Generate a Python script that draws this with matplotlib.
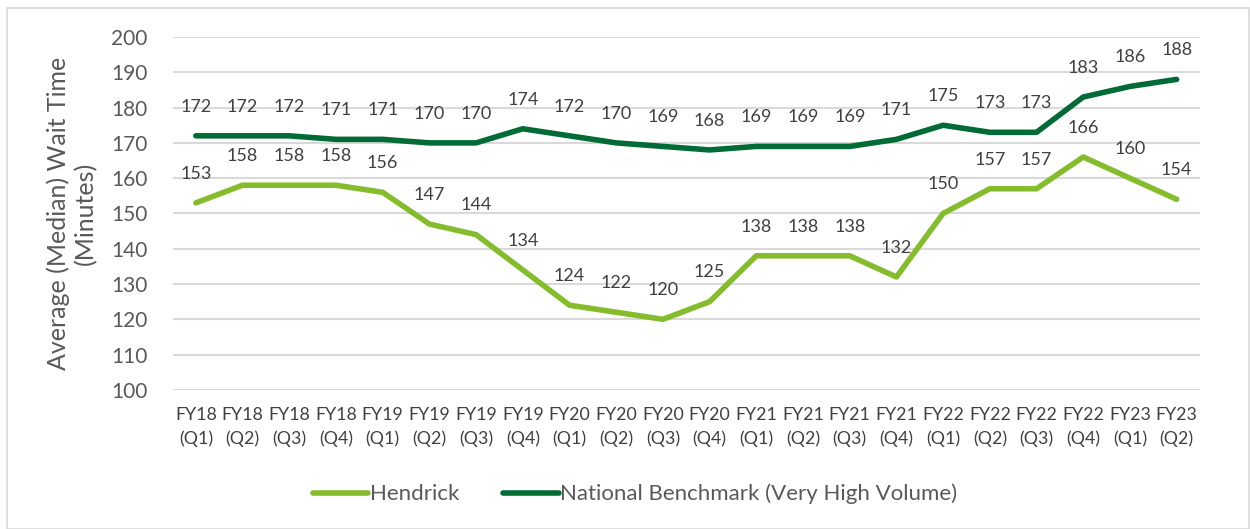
import matplotlib
matplotlib.use("Agg")
import matplotlib.pyplot as plt
from matplotlib.patches import Rectangle

categories = ["FY18\n(Q1)", "FY18\n(Q2)", "FY18\n(Q3)", "FY18\n(Q4)",
              "FY19\n(Q1)", "FY19\n(Q2)", "FY19\n(Q3)", "FY19\n(Q4)",
              "FY20\n(Q1)", "FY20\n(Q2)", "FY20\n(Q3)", "FY20\n(Q4)",
              "FY21\n(Q1)", "FY21\n(Q2)", "FY21\n(Q3)", "FY21\n(Q4)",
              "FY22\n(Q1)", "FY22\n(Q2)", "FY22\n(Q3)", "FY22\n(Q4)",
              "FY23\n(Q1)", "FY23\n(Q2)"]
hendrick = [153, 158, 158, 158, 156, 147, 144, 134, 124, 122, 120, 125,
            138, 138, 138, 132, 150, 157, 157, 166, 160, 154]
national = [172, 172, 172, 171, 171, 170, 170, 174, 172, 170, 169, 168,
            169, 169, 169, 171, 175, 173, 173, 183, 186, 188]
yticks = list(range(100, 201, 10))

plt.rcParams['font.family'] = ['Lato', 'DejaVu Sans']
txt = "#595959"
lbl = "#404040"
c_h = "#84BC2C"
c_n = "#006B34"

fig = plt.figure(figsize=(12.5, 5.29), dpi=100)
fig.patches.append(Rectangle((7/1250, 0), 1 - 7/1250 - 0.001, 1 - 8/529,
                             transform=fig.transFigure, fill=False,
                             edgecolor="#D9D9D9", linewidth=1.2))
ax = fig.add_axes([0.138, 0.263, 0.822, 0.667])
x = list(range(len(categories)))
ax.plot(x, hendrick, color=c_h, lw=4, label="Hendrick", solid_capstyle="round")
ax.plot(x, national, color=c_n, lw=4, label="National Benchmark (Very High Volume)",
        solid_capstyle="round")
for xi, v in zip(x, hendrick):
    ax.annotate(str(v), (xi, v), xytext=(0, 21), textcoords="offset points",
                ha="center", va="center", fontsize=13, color=lbl)
for xi, v in zip(x, national):
    ax.annotate(str(v), (xi, v), xytext=(0, 21), textcoords="offset points",
                ha="center", va="center", fontsize=13, color=lbl)

ax.set_xlim(-0.5, len(categories) - 0.5)
ax.set_ylim(100, 200)
ax.set_yticks(yticks)
ax.set_xticks(x)
ax.set_xticklabels(categories, fontsize=12.8, color=lbl, linespacing=1.6)
ax.tick_params(axis="y", labelsize=15, labelcolor=txt, length=0, pad=18)
ax.tick_params(axis="x", length=0, pad=12)
ax.grid(axis="y", color="#D9D9D9", lw=1.5)
ax.set_axisbelow(True)
for s in ax.spines.values():
    s.set_visible(False)
ax.set_ylabel("Average (Median) Wait Time\n(Minutes)", fontsize=18, color=txt,
              linespacing=1.2, labelpad=10)

fig.legend(loc="center", bbox_to_anchor=(0.508, 1 - 494/529), ncol=2, frameon=False,
           fontsize=16, labelcolor=txt, handlelength=2.5, handletextpad=0.05,
           columnspacing=2.0)

fig.savefig("out.png", dpi=100)
